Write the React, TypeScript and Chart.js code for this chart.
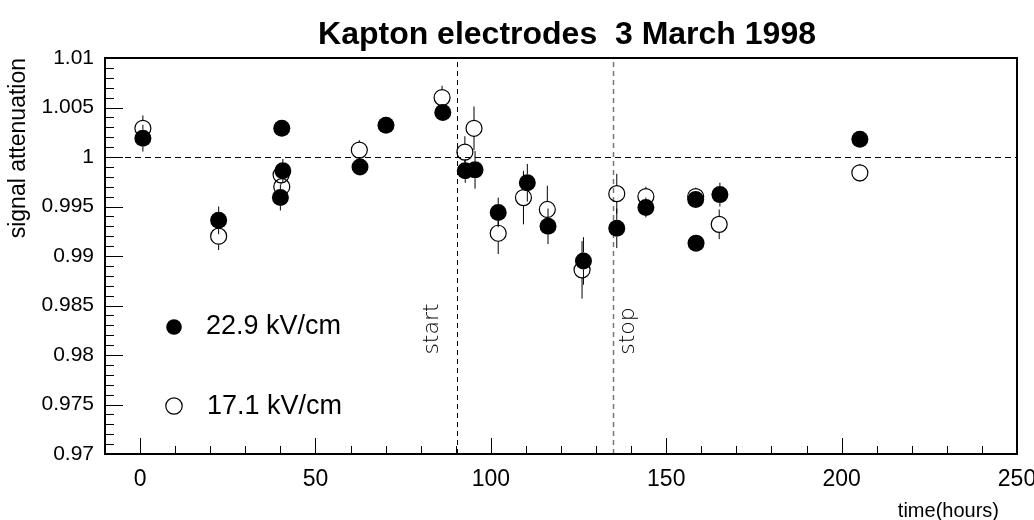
import { useEffect, useRef } from "react";
import { Chart, registerables } from "chart.js";

Chart.register(...registerables);

const FONT = '"Liberation Sans", Arial, Helvetica, sans-serif';

// 22.9 kV/cm run: time (hours), attenuation, error
const timeFilled = [0.8, 22.4, 40.4, 40.7, 40.0, 62.7, 70.1, 86.3, 92.7, 95.5, 102.1, 110.4, 116.3, 126.4, 135.9, 144.2, 158.4, 158.5, 165.3, 205.2];
const attFilled = [1.0019, 0.9936, 1.0029, 0.9986, 0.9959, 0.999, 1.0032, 1.0045, 0.9986, 0.9987, 0.9944, 0.9974, 0.993, 0.9895, 0.9928, 0.9949, 0.9957, 0.9913, 0.9962, 1.0018];
const errFilled = [0.00135, 0.0014, 0.0006, 0.0012, 0.0013, 0.0006, 0.0006, 0.0006, 0.0012, 0.0019, 0.0015, 0.0019, 0.0018, 0.0024, 0.002, 0.001, 0.0007, 0.0006, 0.0012, 0.0006];

// 17.1 kV/cm run
const timeOpen = [0.8, 22.4, 40.2, 40.4, 62.5, 86.1, 92.6, 95.2, 102.1, 109.3, 116.1, 126.0, 135.9, 144.2, 158.4, 165.1, 205.2];
const attOpen = [1.0029, 0.992, 0.9982, 0.997, 1.0007, 1.006, 1.0005, 1.0029, 0.9923, 0.9959, 0.9947, 0.9886, 0.9963, 0.996, 0.996, 0.9932, 0.9984];
const errOpen = [0.0013, 0.0014, 0.001, 0.001, 0.001, 0.0012, 0.0016, 0.0022, 0.0021, 0.0027, 0.0024, 0.0029, 0.002, 0.001, 0.0009, 0.0015, 0.0009];

const seriesLabels = ["22.9 kV/cm", "17.1 kV/cm"];
const xTickValues = [0, 50, 100, 150, 200, 250];
const yTickValues = [0.97, 0.975, 0.98, 0.985, 0.99, 0.995, 1, 1.005, 1.01];
const startTime = 90.4;
const stopTime = 134.9;
const referenceLevel = 1;

const TITLE = "Kapton electrodes  3 March 1998";
const X_TITLE = "time(hours)";
const Y_TITLE = "signal attenuation";

const FILLED_R = 8.5;
const OPEN_R = 8;

const decor = {
  id: "decor",
  beforeDatasetsDraw(chart: any) {
    const { ctx, chartArea: a } = chart;
    const x = chart.scales.x;
    const y = chart.scales.y;
    const seg = (x0: number, y0: number, x1: number, y1: number) => {
      ctx.beginPath();
      ctx.moveTo(x0, y0);
      ctx.lineTo(x1, y1);
      ctx.stroke();
    };
    ctx.save();
    ctx.lineWidth = 1;
    ctx.setLineDash([6, 4]);
    ctx.strokeStyle = "#000";
    const yRef = Math.round(y.getPixelForValue(referenceLevel)) + 0.5;
    seg(a.left, yRef, a.right, yRef);
    ctx.setLineDash([5, 4]);
    const xs = Math.round(x.getPixelForValue(startTime)) + 0.5;
    seg(xs, a.bottom, xs, a.top);
    ctx.strokeStyle = "#777";
    const xe = Math.round(x.getPixelForValue(stopTime)) + 0.5;
    ctx.lineWidth = 1.5;
    seg(xe, a.bottom, xe, a.top);
    ctx.setLineDash([]);

    // vertical error bars, kept outside the marker
    ctx.strokeStyle = "#000";
    ctx.lineWidth = 1;
    const errs = [errFilled, errOpen];
    const radii = [FILLED_R, OPEN_R];
    chart.data.datasets.forEach((ds: any, di: number) => {
      const meta = chart.getDatasetMeta(di);
      meta.data.forEach((pt: any, i: number) => {
        const v = ds.data[i].y;
        const top = y.getPixelForValue(v + errs[di][i]);
        const bot = y.getPixelForValue(v - errs[di][i]);
        const r = radii[di];
        if (pt.y - top > r) seg(pt.x, top, pt.x, pt.y - r);
        if (bot - pt.y > r) seg(pt.x, pt.y + r, pt.x, bot);
      });
    });
    ctx.restore();
  },
  afterDatasetsDraw(chart: any) {
    const { ctx, chartArea: a } = chart;
    const x = chart.scales.x;
    const y = chart.scales.y;
    const seg = (x0: number, y0: number, x1: number, y1: number) => {
      ctx.beginPath();
      ctx.moveTo(x0, y0);
      ctx.lineTo(x1, y1);
      ctx.stroke();
    };
    ctx.save();
    ctx.strokeStyle = "#000";
    ctx.fillStyle = "#000";

    // inward tick marks
    ctx.lineWidth = 1;
    for (let k = 0; k <= 25; k++) {
      const px = Math.round(x.getPixelForValue(k * 10)) + 0.5;
      const len = k % 5 === 0 ? 16 : 8;
      seg(px, a.bottom, px, a.bottom - len);
    }
    for (let k = 0; k <= 40; k++) {
      const py = Math.round(y.getPixelForValue(0.97 + k * 0.001)) + 0.5;
      const len = k % 5 === 0 ? 18 : 9;
      seg(a.left, py, a.left + len, py);
    }

    // frame
    ctx.lineWidth = 2;
    ctx.strokeRect(a.left, a.top, a.right - a.left, a.bottom - a.top);

    // tick labels
    ctx.font = `21px ${FONT}`;
    ctx.textAlign = "right";
    ctx.textBaseline = "middle";
    yTickValues.forEach((v) => {
      ctx.fillText(String(Number(v.toFixed(4))), 94, y.getPixelForValue(v));
    });
    ctx.font = `23px ${FONT}`;
    ctx.textAlign = "center";
    ctx.textBaseline = "alphabetic";
    xTickValues.forEach((v) => {
      ctx.fillText(String(v), x.getPixelForValue(v), 486);
    });

    // axis titles
    ctx.font = `20px ${FONT}`;
    ctx.textAlign = "right";
    ctx.fillText(X_TITLE, 999, 517);
    ctx.save();
    ctx.font = `23px ${FONT}`;
    ctx.translate(25, a.top);
    ctx.rotate(-Math.PI / 2);
    ctx.textAlign = "right";
    ctx.fillText(Y_TITLE, 0, 0);
    ctx.restore();

    // title
    ctx.font = `bold 32px ${FONT}`;
    ctx.textAlign = "center";
    ctx.fillText(TITLE, 567, 44);

    // start / stop markers
    ctx.font = `200 22px "DejaVu Sans", sans-serif`;
    ctx.textBaseline = "middle";
    ctx.save();
    ctx.translate(x.getPixelForValue(startTime) - 25, 329);
    ctx.rotate(-Math.PI / 2);
    ctx.fillText("start", 0, 0);
    ctx.restore();
    ctx.save();
    ctx.translate(x.getPixelForValue(stopTime) + 15, 331);
    ctx.rotate(-Math.PI / 2);
    ctx.fillText("stop", 0, 0);
    ctx.restore();

    // legend
    ctx.beginPath();
    ctx.arc(174, 327, 7.8, 0, Math.PI * 2);
    ctx.fill();
    ctx.beginPath();
    ctx.lineWidth = 1.2;
    ctx.arc(174, 406, 8.2, 0, Math.PI * 2);
    ctx.stroke();
    ctx.font = `27px ${FONT}`;
    ctx.textAlign = "left";
    ctx.textBaseline = "middle";
    ctx.fillText(seriesLabels[0], 206, 327);
    ctx.fillText(seriesLabels[1], 207, 407);
    ctx.restore();
  },
};

export default function App() {
  const ref = useRef<HTMLCanvasElement>(null);
  useEffect(() => {
    document.body.style.margin = "0";
    const chart = new Chart(ref.current!, {
      type: "scatter",
      data: {
        datasets: [
          {
            label: seriesLabels[0],
            data: timeFilled.map((t, i) => ({ x: t, y: attFilled[i] })),
            pointStyle: "circle",
            pointRadius: FILLED_R,
            pointBackgroundColor: "#000",
            pointBorderColor: "#000",
            pointBorderWidth: 0,
          },
          {
            label: seriesLabels[1],
            data: timeOpen.map((t, i) => ({ x: t, y: attOpen[i] })),
            pointStyle: "circle",
            pointRadius: OPEN_R,
            pointBackgroundColor: "rgba(0,0,0,0)",
            pointBorderColor: "#000",
            pointBorderWidth: 1.2,
          },
        ],
      },
      options: {
        animation: false,
        responsive: false,
        events: [],
        layout: { padding: { left: 105, top: 58, right: 17, bottom: 66 } },
        plugins: {
          legend: { display: false },
          tooltip: { enabled: false },
          title: { display: false },
        },
        scales: {
          x: { type: "linear", min: -10, max: 250, display: false },
          y: { type: "linear", min: 0.97, max: 1.01, display: false },
        },
      },
      plugins: [decor],
    });
    return () => chart.destroy();
  }, []);
  return <canvas ref={ref} width={1034} height={520} style={{ display: "block" }} />;
}
